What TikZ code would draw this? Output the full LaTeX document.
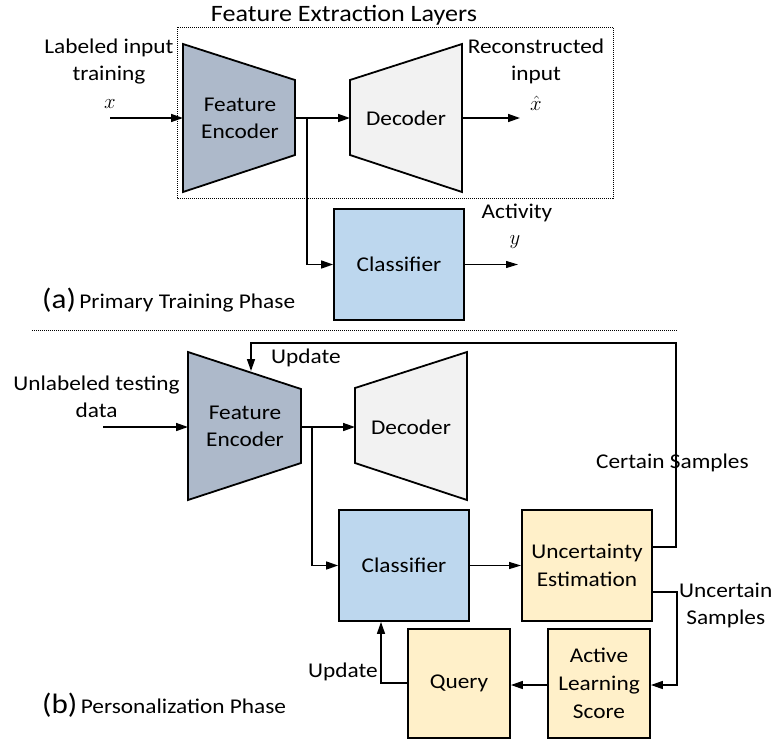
\documentclass[tikz,border=0pt]{standalone}
\usepackage{fontspec}
\setmainfont{Carlito}[FakeStretch=1.11]
\usetikzlibrary{arrows.meta}
\definecolor{encgray}{HTML}{ADB9CA}
\definecolor{decgray}{HTML}{F2F2F2}
\definecolor{clsblue}{HTML}{BDD7EE}
\definecolor{yel}{HTML}{FFF0C9}
\begin{document}
\begin{tikzpicture}[x=1pt,y=-1pt,
  lbl/.style={font=\fontsize{21}{27}\selectfont, align=center, inner sep=0pt},
  ttl/.style={font=\fontsize{23.5}{28}\selectfont, inner sep=0pt},
  mathlbl/.style={font=\fontsize{21}{24}\selectfont, inner sep=0pt},
  phase/.style={font=\fontsize{21}{24}\selectfont, inner sep=0pt, anchor=west},
  conn/.style={line width=1.5pt, -{Triangle[length=12pt,width=8pt]}},
  thinconn/.style={line width=1pt, -{Triangle[length=12pt,width=7pt]}},
  encshape/.style={draw=black, line width=1.8pt, fill=encgray, line join=miter},
  decshape/.style={draw=black, line width=1.8pt, fill=decgray, line join=miter},
  clsbox/.style={draw=black, line width=1.8pt, fill=clsblue, font=\fontsize{21}{27}\selectfont, align=center, inner sep=0pt},
  yelbox/.style={draw=black, line width=1.8pt, fill=yel, font=\fontsize{21}{28}\selectfont, align=center, inner sep=0pt},
  dotline/.style={line width=1pt, dash pattern=on 1pt off 1pt}
]
\useasboundingbox (0,0) rectangle (777,740);

% ---------------- (a) Primary training phase ----------------
\node[ttl] (title) at (344,15) {Feature Extraction Layers};
\draw[dotline] (177,27) rectangle (613,198);

\draw[encshape] (183,44) -- (295,80) -- (295,155) -- (183,192) -- cycle;
\node[lbl] (enc1) at (240,118) {Feature\\Encoder};
\draw[decshape] (350,80) -- (462,44) -- (462,192) -- (350,155) -- cycle;
\node[lbl] (dec1) at (406,118) {Decoder};

\coordinate (in1) at (110,118);
\coordinate (enc1W) at (183,118);
\coordinate (enc1E) at (295,118);
\coordinate (dec1W) at (350,118);
\coordinate (dec1E) at (462,118);
\coordinate (out1) at (520,118);
\coordinate (br1) at (307,118);

\node[lbl] (lin) at (109,61.5) {Labeled input\\training};
\node[mathlbl] (xlab) at (110,104) {$x$};
\node[lbl] (lrec) at (536,61) {Reconstructed\\input};
\node[mathlbl] (xhat) at (536,103) {$\hat{x}$};

\node[clsbox, minimum width=130pt, minimum height=111pt] (cls1) at (399,264.5) {Classifier};
\coordinate (out2) at (518,264.5);
\node[lbl] (act) at (517,213) {Activity};
\node[mathlbl] (ylab) at (515,242) {$y$};

\draw[conn] (in1) -- (enc1W);
\draw[conn] (enc1E) -- (dec1W);
\draw[conn] (dec1E) -- (out1);
\draw[conn] (br1) |- (cls1.west);
\draw[thinconn] (cls1.east) -- (out2);

\node[phase] (pha) at (42,300) {{\fontsize{28}{28}\selectfont (a)}\,Primary Training Phase};

\coordinate (sepL) at (32,330);
\coordinate (sepR) at (678,330);
\draw[dotline] (sepL) -- (sepR);

% ---------------- (b) Personalization phase ----------------
\draw[encshape] (188,352) -- (301,389) -- (301,463) -- (188,500) -- cycle;
\node[lbl] (enc2) at (245,426) {Feature\\Encoder};
\draw[decshape] (355,388) -- (467,352) -- (467,500) -- (355,463) -- cycle;
\node[lbl] (dec2) at (411,427) {Decoder};

\coordinate (in2) at (103,427);
\coordinate (enc2W) at (188,427);
\coordinate (enc2E) at (301,427);
\coordinate (dec2W) at (355,427);
\coordinate (br2) at (312,427);
\coordinate (enc2T) at (251,371);

\node[lbl] (lun) at (96.5,397) {Unlabeled testing\\data};

\node[clsbox, minimum width=130pt, minimum height=111pt] (cls2) at (404,565.5) {Classifier};
\node[yelbox, minimum width=130pt, minimum height=111pt] (unc) at (587,565.5) {Uncertainty\\Estimation};
\node[yelbox, minimum width=102pt, minimum height=109pt] (als) at (599,683.5) {Active\\Learning\\Score};
\node[yelbox, minimum width=102pt, minimum height=109pt] (qry) at (459,683.5) {Query};

\coordinate (uncC) at (652,547);
\coordinate (uncU) at (652,592);

\draw[conn] (in2) -- (enc2W);
\draw[conn] (enc2E) -- (dec2W);
\draw[conn] (br2) |- (cls2.west);
\draw[thinconn] (cls2.east) -- (unc.west);
\draw[conn] (uncC) -- (676,547) -- (676,343) -- (251,343) -- (enc2T);
\draw[conn] (uncU) -- (677,592) -- (677,685) -- (als.east |- 0,685);
\draw[conn] (als.west |- 0,685) -- (qry.east |- 0,685);
\draw[conn] (qry.west |- 0,683) -- (381,683) -- (cls2.south -| 381,0);

\node[lbl] (upd1) at (306,358) {Update};
\node[lbl, anchor=west] (cert) at (596,463) {Certain Samples};
\node[lbl, anchor=west] (uncs) at (679,605) {Uncertain\\Samples};
\node[lbl, anchor=east] (upd2) at (378,672) {Update};

\node[phase] (phb) at (42,705) {{\fontsize{28}{28}\selectfont (b)}\,Personalization Phase};
\end{tikzpicture}
\end{document}
